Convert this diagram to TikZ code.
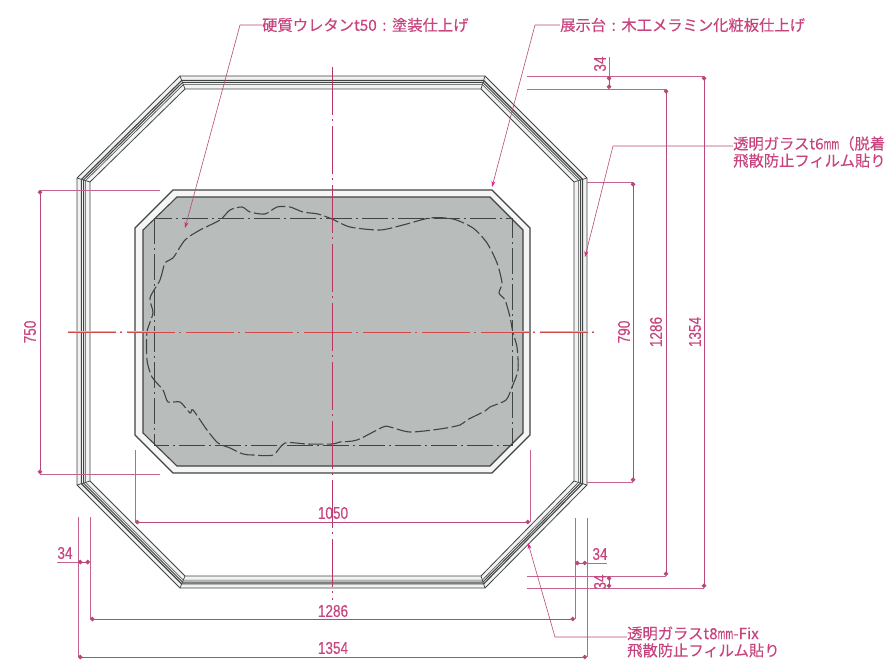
\documentclass[tikz,border=0pt]{standalone}
\usepackage{xcolor}
\usepackage{fontspec}
\setmainfont{Noto Sans CJK JP}
\newfontfamily\notefont[FakeBold=0.35]{Noto Sans CJK JP}
\newfontfamily\dimfont[FakeStretch=0.8, FakeBold=0.3]{Liberation Sans}
\usetikzlibrary{arrows.meta}
\usetikzlibrary{calc, positioning}
\definecolor{dimpink}{HTML}{B8487A}
\definecolor{textpink}{HTML}{C8447E}
\definecolor{leadpink}{HTML}{E0207F}
\definecolor{axisred}{HTML}{D04848}
\definecolor{axiscrimson}{HTML}{B83462}
\definecolor{axishaze}{HTML}{E8ACA4}
\definecolor{linegray}{HTML}{404444}
\definecolor{topgray}{HTML}{B8BCBB}
\newcommand{\narrowmm}{\scalebox{0.55}[1]{mm}}
\newcommand{\notecolon}{\makebox[15.3pt]{:}}

\begin{document}
\begin{tikzpicture} [
	x=1pt, y=-1pt,
	dimline/.style={dimpink, line width=0.7pt, {Circle[length=4.6pt]}-{Circle[length=4.6pt]}}, % measured span
	extline/.style={dimpink!85, line width=0.6pt}, % witness lines
	leader/.style={dimpink, line width=0.6pt, -{Stealth[length=6pt, width=4pt, color=leadpink]}},
	dimlabel/.style={textpink, inner sep=0pt, font=\fontsize{17}{17}\selectfont\dimfont},
	note/.style={textpink, inner sep=0pt, anchor=west, align=left, font=\fontsize{15.3}{17}\selectfont\notefont},
	axispattern/.style={dash pattern=on 48pt off 4pt on 2pt off 5pt},
	hiddenline/.style={linegray, line width=1pt, dash pattern=on 26pt off 4pt on 2pt off 4pt},
	blobline/.style={linegray, line width=1.1pt, dash pattern=on 15pt off 3.5pt},
	]
	\useasboundingbox (0,0) rectangle (890,663);

	% octagon, outer corners
	\coordinate (oa) at (180,76);
	\coordinate (ob) at (485,76);
	\coordinate (oc) at (587,178);
	\coordinate (od) at (587,485);
	\coordinate (oe) at (485,588);
	\coordinate (of) at (180,588);
	\coordinate (og) at (77,485);
	\coordinate (oh) at (77,178);
	% octagon, inner corners
	\coordinate (ia) at (185,89);
	\coordinate (ib) at (481,89);
	\coordinate (ic) at (574,182);
	\coordinate (id) at (574,481);
	\coordinate (ie) at (481,576);
	\coordinate (if) at (185,576);
	\coordinate (ig) at (90,481);
	\coordinate (ih) at (90,182);

	\fill[gray!10, even odd rule] (oa) -- (ob) -- (oc) -- (od) -- (oe) -- (of) -- (og) -- (oh) -- cycle
		(ia) -- (ib) -- (ic) -- (id) -- (ie) -- (if) -- (ig) -- (ih) -- cycle;
	\foreach \t/\w in {0/0.8, 0.34/1.1, 0.5/1, 0.66/0.6, 1/0.8}
		\draw[linegray, line width=\w pt, line join=miter]
			($(oa)!\t!(ia)$) -- ($(ob)!\t!(ib)$) -- ($(oc)!\t!(ic)$) -- ($(od)!\t!(id)$)
			-- ($(oe)!\t!(ie)$) -- ($(of)!\t!(if)$) -- ($(og)!\t!(ig)$) -- ($(oh)!\t!(ih)$) -- cycle;
	\foreach \c in {a,b,c,d,e,f,g,h}
		\draw[linegray, line width=0.7pt] (o\c) -- (i\c);

	% display table
	\draw[linegray, fill=gray!8, line width=1.1pt]
		(173,190) -- (492,190) -- (530,228) -- (530,435) -- (492,473) -- (173,473) -- (135,435) -- (135,228) -- cycle;
	\draw[linegray, fill=topgray, line width=1.1pt]
		(177,197) -- (490,197) -- (523,230) -- (523,433) -- (490,466) -- (177,466) -- (143,433) -- (143,230) -- cycle;
	\draw[hiddenline] (154,218) rectangle (512,445);

	\draw[blobline] plot[smooth cycle, tension=0.45] coordinates {
		(150,298) (160,280) (165,263) (173,258) (185,240) (200,230) (220,220) (230,210)
		(242,207) (250,212) (265,214) (277,207) (290,207) (303,212) (318,214) (332,219)
		(350,227) (380,230) (403,225) (430,218) (453,219) (473,228) (487,243) (497,263)
		(502,283) (499,293) (505,300) (510,317) (513,333) (517,347) (518,370) (512,387)
		(506,400) (490,407) (485,411) (467,420) (460,425) (440,429) (410,432) (390,427)
		(383,427) (357,440) (340,442) (332,444) (307,444) (285,443) (273,455) (253,455)
		(243,454) (230,448) (218,443) (207,430) (193,410) (190,413) (180,402) (168,402)
		(163,390) (152,377) (147,360) (147,332) (153,313)
	};

	% centre lines
	\coordinate (axl) at (68,332);
	\coordinate (axr) at (597,332);
	\coordinate (axt) at (332,67);
	\coordinate (axb) at (332,600);
	\draw[axispattern, axishaze, line width=2.6pt] (axl) -- (axr);
	\draw[axispattern, axisred, line width=0.6pt] (axl) -- (axr);
	\draw[axispattern, axiscrimson, line width=1pt] (axt) -- (axb);

	% dimensions, left
	\coordinate (ela) at (160,190);
	\coordinate (elb) at (160,474);
	\coordinate (la) at (40,190);
	\coordinate (lb) at (40,474);
	\draw[extline] (la) -- (ela) (lb) -- (elb);
	\draw[dimline] (la) -- (lb);
	\node[dimlabel, rotate=90] (l750) at (30,332) {750};

	% dimensions, bottom
	\coordinate (ba) at (135,522);
	\coordinate (bb) at (530,522);
	\coordinate (bc) at (90,619);
	\coordinate (bd) at (575,619);
	\coordinate (be) at (78,657);
	\coordinate (bf) at (587,657);
	\coordinate (eba) at (135,450);
	\coordinate (ebb) at (530,450);
	\coordinate (ebc) at (90,517);
	\coordinate (ebd) at (575,518);
	\coordinate (ebe) at (78,517);
	\coordinate (ebf) at (587,518);
	\draw[extline] (ba) -- (eba) (bb) -- (ebb) (bc) -- (ebc) (bd) -- (ebd) (be) -- (ebe) (bf) -- (ebf);
	\draw[dimline] (ba) -- (bb);
	\draw[dimline] (bc) -- (bd);
	\draw[dimline] (be) -- (bf);
	\node[dimlabel] (l1050) at (333,513) {1050};
	\node[dimlabel] (l1286b) at (333,611) {1286};
	\node[dimlabel] (l1354b) at (333,648) {1354};

	% small 34 marks, bottom
	\coordinate (sa) at (78,562);
	\coordinate (sb) at (90,562);
	\coordinate (sc) at (57,562);
	\coordinate (sd) at (575,563);
	\coordinate (se) at (587,563);
	\coordinate (sf) at (607,563);
	\draw[extline] (sc) -- (sa) (se) -- (sf);
	\draw[dimline] (sa) -- (sb);
	\draw[dimline] (sd) -- (se);
	\node[dimlabel] (l34a) at (65,553) {34};
	\node[dimlabel] (l34b) at (600,554) {34};

	% dimensions, right
	\coordinate (ra) at (633,182);
	\coordinate (rb) at (633,482);
	\coordinate (rc) at (666,89);
	\coordinate (rd) at (666,576);
	\coordinate (re) at (704,76);
	\coordinate (rf) at (704,588);
	\coordinate (era) at (587,182);
	\coordinate (erb) at (587,482);
	\coordinate (erc) at (527,89);
	\coordinate (erd) at (527,576);
	\coordinate (ere) at (527,76);
	\coordinate (erf) at (527,588);
	\draw[extline] (ra) -- (era) (rb) -- (erb) (rc) -- (erc) (rd) -- (erd) (re) -- (ere) (rf) -- (erf);
	\draw[dimline] (ra) -- (rb);
	\draw[dimline] (rc) -- (rd);
	\draw[dimline] (re) -- (rf);
	\node[dimlabel, rotate=90] (l790) at (624,332) {790};
	\node[dimlabel, rotate=90] (l1286r) at (656,332) {1286};
	\node[dimlabel, rotate=90] (l1354r) at (695,332) {1354};

	% small 34 marks, right
	\coordinate (ta) at (609,76);
	\coordinate (tb) at (609,89);
	\coordinate (tc) at (609,57);
	\coordinate (td) at (609,576);
	\coordinate (te) at (609,588);
	\draw[extline] (tc) -- (ta);
	\draw[dimline] (ta) -- (tb);
	\draw[dimline] (td) -- (te);
	\node[dimlabel, rotate=90] (l34c) at (600,64) {34};
	\node[dimlabel, rotate=90] (l34d) at (600,582) {34};

	% notes
	\node[note] (n1) at (262,25) {硬質ウレタンt50\notecolon 塗装仕上げ};
	\node[note] (n2) at (560,25) {展示台\notecolon 木工メラミン化粧板仕上げ};
	\node[note] (n3) at (733,152) {透明ガラスt6\narrowmm（脱着\\飛散防止フィルム貼り};
	\node[note] (n4) at (627,642) {透明ガラスt8\narrowmm-Fix\\飛散防止フィルム貼り};

	\coordinate (p1) at (240,25);
	\coordinate (p2) at (535,25);
	\coordinate (p3) at (613,146);
	\coordinate (p4) at (555,637);
	\coordinate (q1) at (185,228);
	\coordinate (q2) at (492,187);
	\coordinate (q3) at (585,257);
	\coordinate (q4) at (528,543);
	\draw[leader] (n1.west |- p1) -- (p1) -- (q1);
	\draw[leader] (n2.west |- p2) -- (p2) -- (q2);
	\draw[leader] (n3.west |- p3) -- (p3) -- (q3);
	\draw[leader] (n4.west |- p4) -- (p4) -- (q4);
\end{tikzpicture}
\end{document}
